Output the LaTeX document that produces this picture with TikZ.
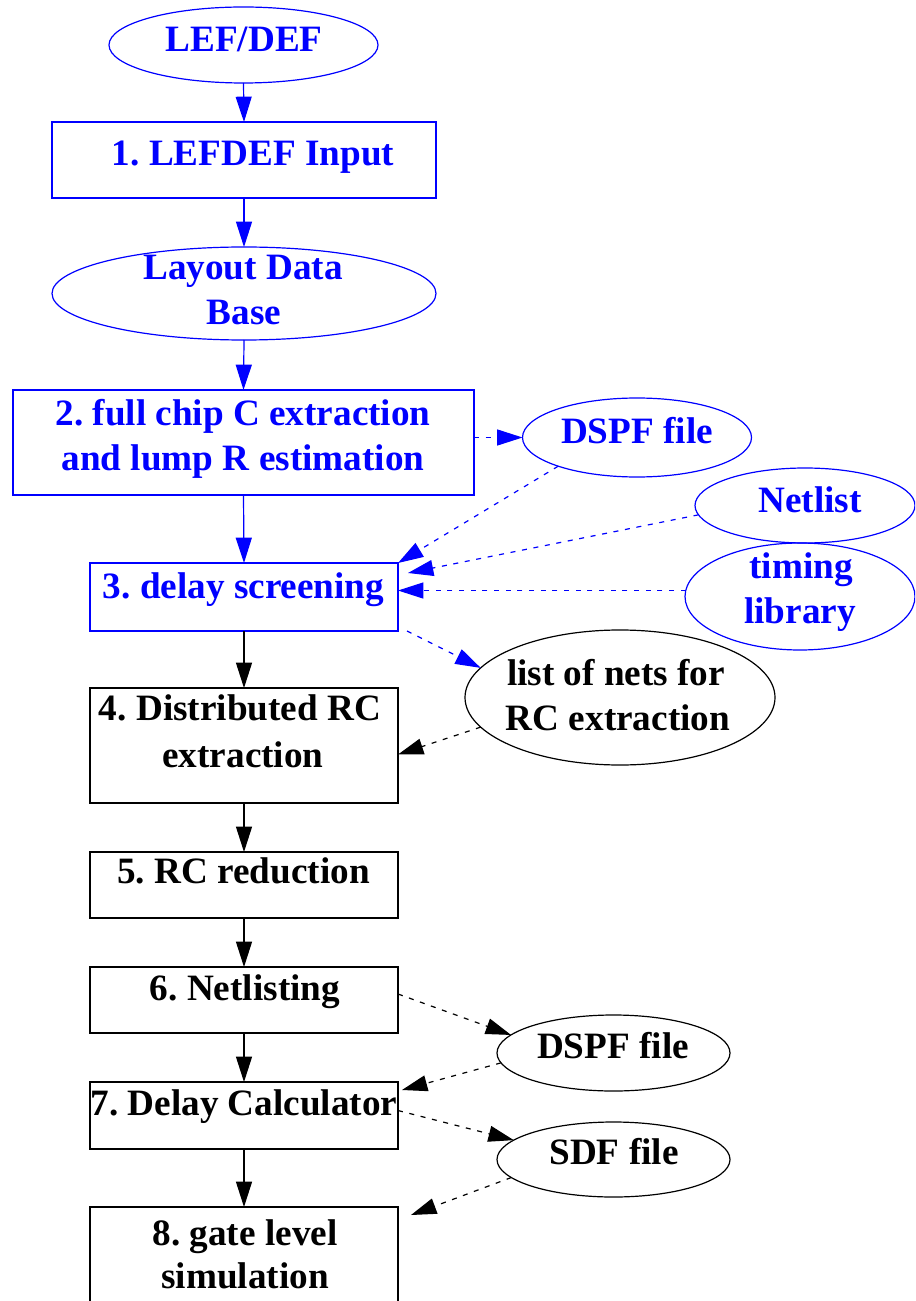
\documentclass[tikz,border=0pt]{standalone}
\usepackage{fontspec}
\setmainfont{Liberation Serif}
\usetikzlibrary{arrows.meta,shapes.geometric,calc}
\definecolor{flowblue}{RGB}{0,0,255}
\frenchspacing
\begin{document}
\begin{tikzpicture}[x=0.75pt,y=-0.75pt,
  box/.style={draw,rectangle,inner sep=0pt,outer sep=0pt,line width=0.9pt},
  oval/.style={draw,ellipse,inner sep=0pt,outer sep=0pt,line width=0.9pt},
  lbl/.style={anchor=base,inner sep=0pt,font=\fontsize{27.9}{33.75}\selectfont\bfseries\frenchspacing},
  flow/.style={line width=0.9pt,-{Triangle[length=19pt,width=12pt]}},
  feed/.style={flow,dash pattern=on 3.75pt off 5pt},
]
\path[use as bounding box] (0,0) rectangle (915,1301);
\clip (0,0) rectangle (915,1301);

% ---- blue part: layout input and screening ----
\begin{scope}[flowblue]
\node[oval,minimum width=201.75pt,minimum height=57pt] (e0) at (243.5,45) {};
\node[box,minimum width=288pt,minimum height=57pt] (b1) at (244,160) {};
\node[oval,minimum width=288pt,minimum height=69.75pt] (e1) at (244,293.5) {};
\node[box,minimum width=345.75pt,minimum height=78.75pt] (b2) at (243.5,442.5) {};
\node[oval,minimum width=171.75pt,minimum height=59.25pt] (dspfa) at (637,437.5) {};
\node[oval,minimum width=165pt,minimum height=56.25pt] (netl) at (805,505.5) {};
\node[oval,minimum width=172.5pt,minimum height=80.25pt] (tlib) at (800,596.5) {};
\node[box,minimum width=231pt,minimum height=51pt] (b3) at (244,597) {};

\node[lbl] (t0) at (244,52) {LEF/DEF};
\node[lbl] (t1) at (253,166) {1. LEFDEF Input};
\node[lbl] (t2a) at (243,280) {Layout Data};
\node[lbl] (t2b) at (244,325) {Base};
\node[lbl] (t3a) at (243,425) {2. full chip C extraction};
\node[lbl] (t3b) at (243,470) {and lump R estimation};
\node[lbl] (t4) at (637,443) {DSPF file};
\node[lbl] (t5) at (810,512) {Netlist};
\node[lbl] (t6a) at (801,578) {timing};
\node[lbl] (t6b) at (800,623) {library};
\node[lbl] (t7) at (243.5,598) {3. delay screening};

\draw[flow] (e0.south) -- (b1.north);
\draw[flow] (b1.south) -- (e1.north);
\draw[flow] (e1.south) -- (b2.north);
\draw[flow] (b2.south) -- (b3.north);
\draw[feed] (b2.east |- dspfa.west) -- (dspfa.west);
\draw[feed] (dspfa.200) -- (b3.north east);
\draw[feed] (netl.185) -- ($(b3.north east)+(10,10)$);
\draw[feed] (tlib.177) -- (b3.east |- tlib.177);
\end{scope}

% ---- black part: RC extraction down to simulation ----
\node[oval,minimum width=232.5pt,minimum height=101.25pt] (lnets) at (620,697.5) {};
\node[box,minimum width=231pt,minimum height=86.25pt] (b4) at (244,745.5) {};
\node[box,minimum width=231pt,minimum height=49.5pt] (b5) at (244,885) {};
\node[box,minimum width=231pt,minimum height=49.5pt] (b6) at (244,1000) {};
\node[oval,minimum width=174.75pt,minimum height=57pt] (dspfb) at (613.5,1053) {};
\node[box,minimum width=231pt,minimum height=50.25pt] (b7) at (244,1115.5) {};
\node[oval,minimum width=174.75pt,minimum height=56.25pt] (sdf) at (613.5,1159.5) {};
\node[box,minimum width=231pt,minimum height=86.25pt] (b8) at (244,1264.5) {};

\draw[feed,flowblue] ($(b3.south east)+(9,0)$) -- (lnets.168);

\node[lbl] (t8a) at (616,685) {list of nets for};
\node[lbl] (t8b) at (618,730) {RC extraction};
\node[lbl] (t9a) at (240,720) {4. Distributed RC};
\node[lbl] (t9b) at (243,767) {extraction};
\node[lbl] (t10) at (243.5,883) {5. RC reduction};
\node[lbl] (t11) at (245,1000) {6. Netlisting};
\node[lbl] (t12) at (613,1058) {DSPF file};
\node[lbl] (t13) at (244,1115) {7. Delay Calculator};
\node[lbl] (t14) at (614,1164) {SDF file};
\node[lbl] (t15a) at (245,1245) {8. gate level};
\node[lbl] (t15b) at (245,1288) {simulation};

\draw[flow] (b3.south) -- (b4.north);
\draw[flow] (b4.south) -- (b5.north);
\draw[flow] (b5.south) -- (b6.north);
\draw[flow] (b6.south) -- (b7.north);
\draw[flow] (b7.south) -- (b8.north);
\draw[feed] (lnets.192) -- ($(b4.east)+(0,9)$);
\draw[feed] ($(b6.east)+(0,-6)$) -- (dspfb.170);
\draw[feed] (dspfb.185) -- ($(b7.north east)+(4,8)$);
\draw[feed] ($(b7.east)+(0,-5)$) -- (sdf.169);
\draw[feed] (sdf.190) -- ($(b8.north east)+(13,8)$);
\end{tikzpicture}
\end{document}
